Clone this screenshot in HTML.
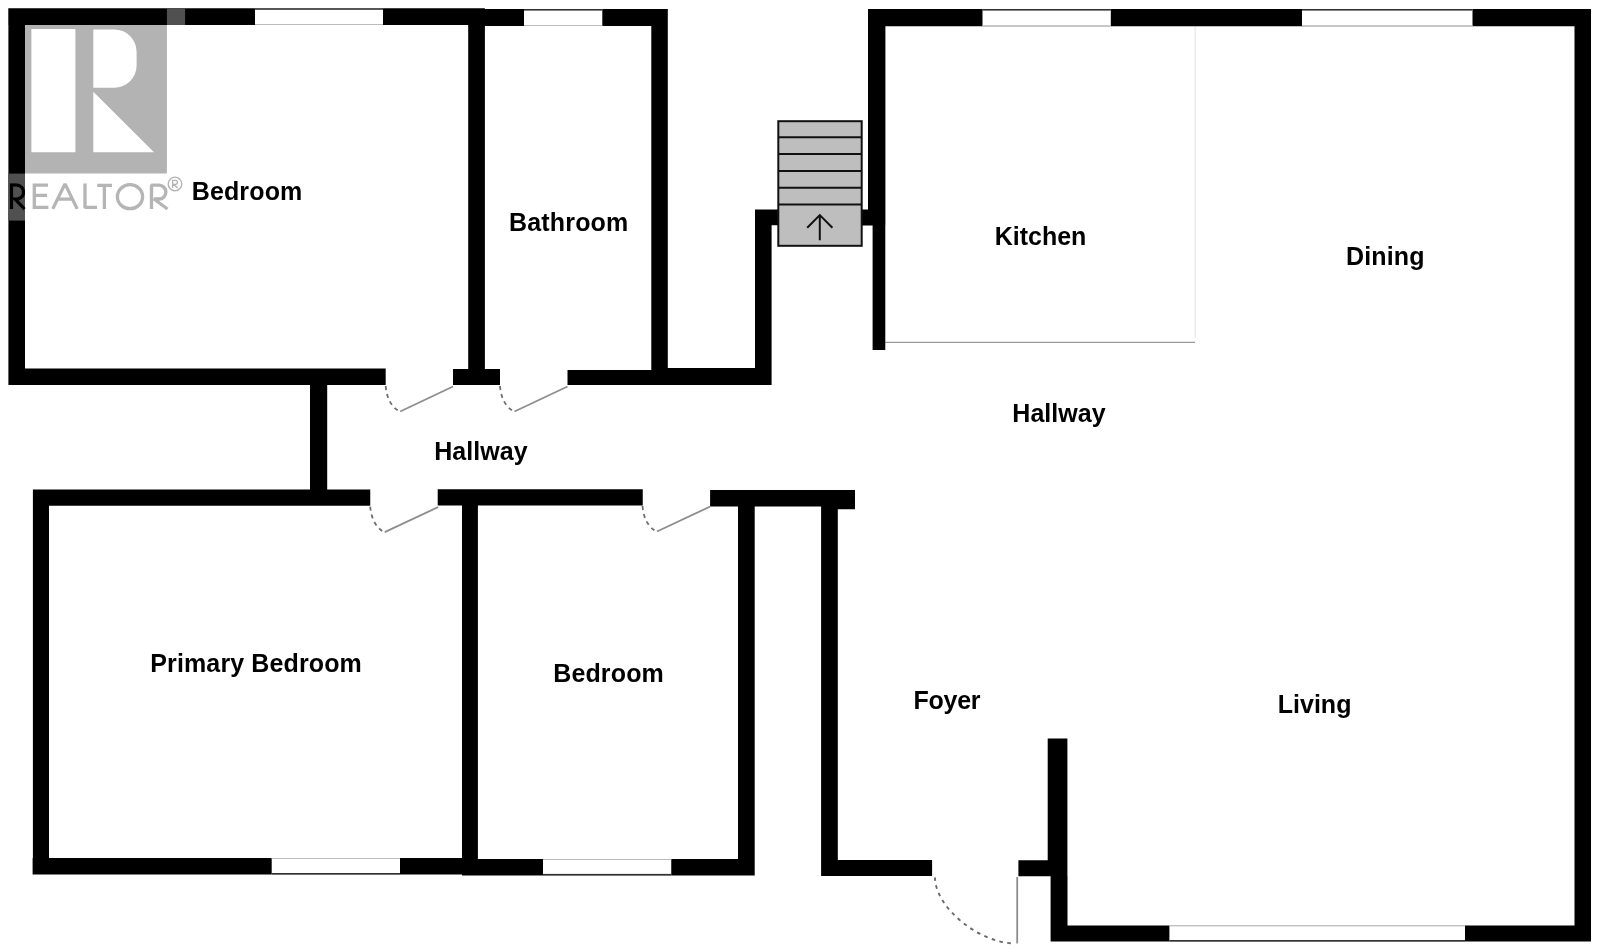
<!DOCTYPE html>
<html><head><meta charset="utf-8"><style>
html,body{margin:0;padding:0;background:#fff;width:1600px;height:952px;overflow:hidden}
svg{display:block;will-change:transform}
text{font-family:"Liberation Sans",sans-serif;font-weight:bold;font-size:25px;fill:#000}
</style></head><body>
<svg width="1600" height="952" viewBox="0 0 1600 952">
<rect x="0" y="0" width="1600" height="952" fill="#fff"/>
<line x1="1195.2" y1="26" x2="1195.2" y2="338" stroke="#ececec" stroke-width="1.5"/>
<line x1="885" y1="342.3" x2="1195" y2="342.3" stroke="#9a9a9a" stroke-width="1.2"/>
<path fill="#000" d="M8.3 8.2H484.9V25H8.3ZM468.2 9H667.8V26H468.2ZM8.4 8.2H25V385H8.4ZM8.4 368.5H385.7V385H8.4ZM453 369H500V385H453ZM567.5 370H667.8V385H567.5ZM667.8 368H771.6V385H667.8ZM468.2 8.2H484.9V385H468.2ZM651.3 9H667.8V385H651.3ZM755 209.6H771.6V385H755ZM755 209.6H778V225.2H755ZM862 209.6H873V225.4H862ZM868 9H885.4V225.4H868ZM872.6 225H885.3V350H872.6ZM868 9H1591V26.2H868ZM1574.5 9H1591V941.6H1574.5ZM1050.6 925.4H1591V941.6H1050.6ZM1047.7 738.5H1067.4V876.3H1047.7ZM1050.6 876H1067.5V941.6H1050.6ZM1018.4 860.2H1048V876.3H1018.4ZM821.4 860H932.1V876H821.4ZM821.1 490H837.8V876H821.1ZM710.1 490H855V506.5H710.1ZM837 490H855V509.3H837ZM738 490H754.7V875.5H738ZM462 859H754.5V875.5H462ZM32.6 858H477.9V874.6H32.6ZM32.9 489.4H49V874.6H32.9ZM32.9 489.4H370.25V505.8H32.9ZM310 385H327.2V490H310ZM437.7 489.2H642.75V505.5H437.7ZM462 489.2H477.9V875H462Z"/>
<rect x="255" y="8.2" width="128" height="16.8" fill="#fff"/>
<rect x="255" y="8.2" width="128" height="1.6" fill="#333"/>
<rect x="255" y="24" width="128" height="1" fill="#bbb"/>
<rect x="524" y="9" width="78.3" height="17" fill="#fff"/>
<rect x="524" y="9" width="78.3" height="1.6" fill="#333"/>
<rect x="524" y="25" width="78.3" height="1" fill="#bbb"/>
<rect x="982.5" y="9" width="128.3" height="17.2" fill="#fff"/>
<rect x="982.5" y="9" width="128.3" height="1.6" fill="#333"/>
<rect x="982.5" y="25.2" width="128.3" height="1" fill="#bbb"/>
<rect x="1302" y="9" width="170.5" height="17.2" fill="#fff"/>
<rect x="1302" y="9" width="170.5" height="1.6" fill="#333"/>
<rect x="1302" y="25.2" width="170.5" height="1" fill="#bbb"/>
<rect x="271.7" y="858" width="128.3" height="16.6" fill="#fff"/>
<rect x="271.7" y="858" width="128.3" height="1" fill="#bbb"/>
<rect x="271.7" y="873" width="128.3" height="1.6" fill="#333"/>
<rect x="543" y="859" width="128.25" height="16.5" fill="#fff"/>
<rect x="543" y="859" width="128.25" height="1" fill="#bbb"/>
<rect x="543" y="873.9" width="128.25" height="1.6" fill="#333"/>
<rect x="1169.4" y="925.4" width="295.6" height="16.2" fill="#fff"/>
<rect x="1169.4" y="925.4" width="295.6" height="1" fill="#bbb"/>
<rect x="1169.4" y="940" width="295.6" height="1.6" fill="#333"/>
<path d="M385.7 386 Q387.2 404 398.7 411" fill="none" stroke="#6e6e6e" stroke-width="1.8" stroke-dasharray="4 4"/>
<line x1="400.2" y1="411.5" x2="453" y2="386.5" stroke="#8a8e91" stroke-width="1.8"/>
<path d="M500 386 Q501.5 404 513 411" fill="none" stroke="#6e6e6e" stroke-width="1.8" stroke-dasharray="4 4"/>
<line x1="514.5" y1="411.5" x2="567.5" y2="386.5" stroke="#8a8e91" stroke-width="1.8"/>
<path d="M370.25 506.6 Q371.75 524.6 383.25 531.6" fill="none" stroke="#6e6e6e" stroke-width="1.8" stroke-dasharray="4 4"/>
<line x1="384.75" y1="532.1" x2="438.1" y2="507.1" stroke="#8a8e91" stroke-width="1.8"/>
<path d="M642.5 506 Q644 524 655.5 531" fill="none" stroke="#6e6e6e" stroke-width="1.8" stroke-dasharray="4 4"/>
<line x1="657" y1="531.5" x2="710.25" y2="506.5" stroke="#8a8e91" stroke-width="1.8"/>
<path d="M935 877.4 C935 907.1 979 943.4 1015 943.4" fill="none" stroke="#6a6a6a" stroke-width="1.9" stroke-dasharray="3.6 4.4"/>
<line x1="1017.2" y1="877" x2="1017.2" y2="943.4" stroke="#8a8e91" stroke-width="1.8"/>
<rect x="778.3" y="121.2" width="83.4" height="124.6" fill="#bebebe" stroke="#111" stroke-width="2"/>
<line x1="778" y1="137.3" x2="862" y2="137.3" stroke="#111" stroke-width="2"/>
<line x1="778" y1="154.1" x2="862" y2="154.1" stroke="#111" stroke-width="2"/>
<line x1="778" y1="170.9" x2="862" y2="170.9" stroke="#111" stroke-width="2"/>
<line x1="778" y1="187.7" x2="862" y2="187.7" stroke="#111" stroke-width="2"/>
<line x1="778" y1="204.5" x2="862" y2="204.5" stroke="#111" stroke-width="2"/>
<path d="M819.8 240.3V215.3M807.2 227.7L819.8 215.1L832.4 227.7" fill="none" stroke="#111" stroke-width="2"/>
<text x="191.7" y="200.35" letter-spacing="0.15">Bedroom</text>
<text x="509.1" y="231.4" letter-spacing="0.15">Bathroom</text>
<text x="994.7" y="244.5" letter-spacing="0">Kitchen</text>
<text x="1346" y="264.5" letter-spacing="0.15">Dining</text>
<text x="1012.3" y="421.85" letter-spacing="0.05">Hallway</text>
<text x="434.2" y="460.35" letter-spacing="0.05">Hallway</text>
<text x="150.3" y="671.9" letter-spacing="0.12">Primary Bedroom</text>
<text x="553.2" y="682.3" letter-spacing="0.15">Bedroom</text>
<text x="913.5" y="708.85" letter-spacing="-0.25">Foyer</text>
<text x="1277.8" y="712.5" letter-spacing="0">Living</text>

<g id="logo">
 <path fill="#b3b3b3" fill-rule="evenodd" d="M25 25H166.9V173.6H25Z M31.4 29H75.4V152.3H31.4Z M93.3 29.4H114.2A22.4 22.4 0 0 1 136.6 51.8V65.4A22.4 22.4 0 0 1 114.2 87.8H93.3Z M93.3 91.8L154 152.2H93.3Z"/>
 <rect x="166.9" y="8.2" width="18.2" height="16.8" fill="#505050"/>
 <rect x="8.4" y="173.6" width="16.6" height="47" fill="#505050"/>
 <g fill="none" stroke="#b5b5b5" stroke-width="3.3" stroke-linejoin="bevel">
  <path d="M34.3 183.6V208.9M33 185.2H48M33 195.4H47M33 207.4H48.4"/>
  <path d="M52.8 208.9L65 183.9L77.2 208.9M58.5 199.2H71.5"/>
  <path d="M85 183.6V207.4H97"/>
  <path d="M97.2 185.3H112M104.4 185.3V208.9"/>
  <ellipse cx="130" cy="196.7" rx="12.6" ry="12"/>
  <path d="M151.5 208.9V185.2H159A6.9 6.9 0 0 1 159 199H154L167.5 209"/>
 </g>
 <g fill="none" stroke="#b3b3b3" stroke-width="1.3">
  <circle cx="175" cy="184" r="6.8"/>
  <path d="M172.6 188V180.3H175.4A2 2 0 0 1 175.4 184.3H173.5L177.6 188"/>
 </g>
 <clipPath id="wallclip"><rect x="8.4" y="173.6" width="16.6" height="47"/></clipPath>
 <path fill="none" stroke="#b5b5b5" stroke-width="3.3" d="M11.5 208.9V185.1H16.6A6.95 6.95 0 0 1 16.6 199H15L24.8 209.3"/>
 <path clip-path="url(#wallclip)" fill="none" stroke="#000" stroke-width="3.5" d="M11.5 208.9V185.1H16.6A6.95 6.95 0 0 1 16.6 199H15L24.8 209.3"/>
</g>

</svg>
</body></html>
